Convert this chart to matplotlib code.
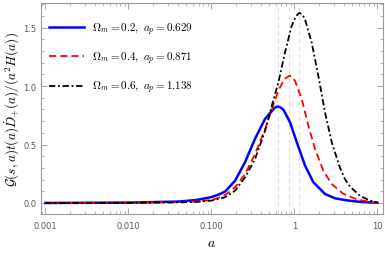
import numpy as np
import matplotlib
matplotlib.use('Agg')
import matplotlib.pyplot as plt
from matplotlib.ticker import FixedLocator, FixedFormatter, MultipleLocator, LogLocator, NullFormatter

plt.rcParams.update({
    'mathtext.fontset': 'cm',
    'font.family': 'DejaVu Sans',
})

# values
a_blue = [0.001, 0.010, 0.040, 0.065, 0.100, 0.120, 0.146, 0.193, 0.255, 0.336, 0.444,
          0.534, 0.580, 0.629, 0.680, 0.743, 0.887, 1.069, 1.345, 1.695, 2.34, 3.09,
          4.32, 6.5, 10.0]
g_blue = [0.0, 0.003, 0.012, 0.025, 0.05, 0.07, 0.097, 0.19, 0.35, 0.55, 0.72,
          0.785, 0.815, 0.826, 0.818, 0.795, 0.69, 0.52, 0.32, 0.177, 0.077, 0.04,
          0.022, 0.008, 0.002]

a_red = [0.001, 0.010, 0.040, 0.065, 0.100, 0.120, 0.146, 0.193, 0.255, 0.336, 0.444,
         0.534, 0.641, 0.758, 0.871, 0.940, 1.019, 1.227, 1.475, 1.776, 2.235, 2.82,
         3.86, 5.7, 8.9, 10.0]
g_red = [0.0, 0.002, 0.007, 0.013, 0.025, 0.042, 0.068, 0.134, 0.248, 0.42, 0.63,
         0.80, 0.96, 1.06, 1.088, 1.08, 1.045, 0.89, 0.66, 0.46, 0.276, 0.162,
         0.08, 0.03, 0.006, 0.002]

a_black = [0.001, 0.010, 0.040, 0.065, 0.100, 0.120, 0.146, 0.193, 0.255, 0.336,
           0.444, 0.534, 0.641, 0.773, 0.929, 1.030, 1.138, 1.240, 1.345, 1.62,
           1.945, 2.34, 2.82, 3.55, 4.10, 4.69, 6.2, 8.2, 10.0]
g_black = [0.0, 0.001, 0.005, 0.009, 0.02, 0.032, 0.049, 0.105, 0.22, 0.376,
           0.618, 0.83, 1.03, 1.29, 1.515, 1.59, 1.626, 1.615, 1.57, 1.37,
           1.088, 0.775, 0.52, 0.30, 0.20, 0.14, 0.06, 0.02, 0.005]

omegas = [0.2, 0.4, 0.6]
a_peaks = [0.629, 0.871, 1.138]

x_ticks = [0.001, 0.01, 0.1, 1, 10]
x_tick_labels = ['0.001', '0.010', '0.100', '1', '10']
y_ticks = [0.0, 0.5, 1.0, 1.5]

fig = plt.figure(figsize=(3.85, 2.55), dpi=100)
ax = fig.add_axes([0.106, 0.157, 0.889, 0.827])

for ap in a_peaks:
    ax.axvline(ap, color='#dddddd', lw=0.8, ls=(0, (4, 3)), zorder=0)

styles = [
    dict(color='#0000ff', lw=1.8, ls='-'),
    dict(color='#ff0000', lw=1.3, ls=(0, (4, 2.2))),
    dict(color='#000000', lw=1.3, ls=(0, (3.5, 1.5, 1, 1.5))),
]
series = [(a_blue, g_blue), (a_red, g_red), (a_black, g_black)]
for (xs, ys), st, om, ap in zip(series, styles, omegas, a_peaks):
    ax.plot(xs, ys, label=rf'$\Omega_m = {om},\ a_p = {ap}$',
            solid_joinstyle='round', dash_joinstyle='round', **st)

ax.set_xscale('log')
ax.set_xlim(10**-3.055, 10**1.069)
ax.set_ylim(-0.094, 1.71)

ax.xaxis.set_major_locator(FixedLocator(x_ticks))
ax.xaxis.set_major_formatter(FixedFormatter(x_tick_labels))
ax.xaxis.set_minor_locator(LogLocator(base=10, subs=np.arange(2, 10)))
ax.xaxis.set_minor_formatter(NullFormatter())
ax.yaxis.set_major_locator(FixedLocator(y_ticks))
ax.yaxis.set_minor_locator(MultipleLocator(0.1))
ax.set_yticklabels(['0.0', '0.5', '1.0', '1.5'])

ax.tick_params(which='both', direction='in', top=True, right=True,
               color='#999999', labelcolor='#555555', labelsize=6)
ax.tick_params(which='major', length=4, width=0.6)
ax.tick_params(which='minor', length=2, width=0.5)
ax.tick_params(axis='x', pad=5)
ax.tick_params(axis='y', pad=3)
for sp in ax.spines.values():
    sp.set_color('#999999')
    sp.set_linewidth(0.8)

ax.set_xlabel(r'$a$', fontsize=10, labelpad=4)
ax.set_ylabel(r'$\mathcal{G}(s,a)t(a)\dot{D}_{+}(a)/(a^2H(a))$', fontsize=9.5, labelpad=2)

ax.legend(loc='upper left', frameon=False, fontsize=8, handlelength=3.2,
          handletextpad=0.7, labelspacing=1.15, borderaxespad=0.3,
          bbox_to_anchor=(0.0, 0.955))

fig.savefig('out.png', dpi=100)
